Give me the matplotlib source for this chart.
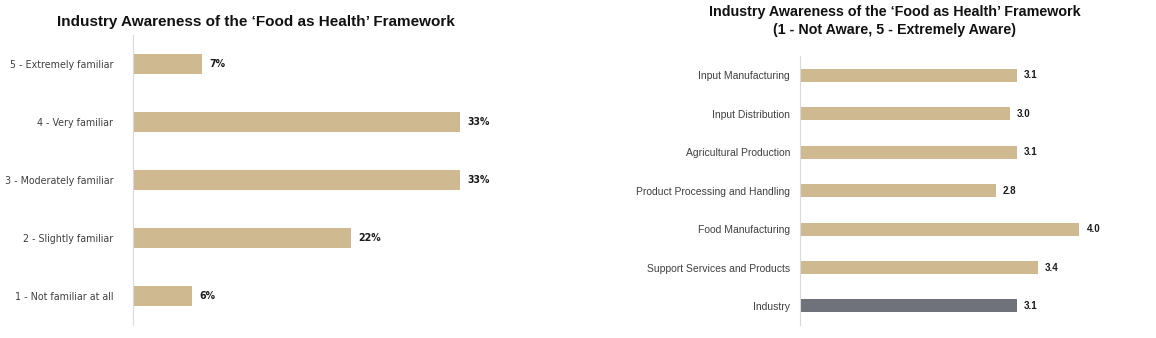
import numpy as np
import matplotlib.pyplot as plt

plt.rcParams['font.family'] = ['Liberation Sans', 'DejaVu Sans']

# familiarity with the framework (share of respondents, %)
familiarity_levels = ['1 - Not familiar at all', '2 - Slightly familiar', '3 - Moderately familiar',
                      '4 - Very familiar', '5 - Extremely familiar']
familiarity_pct = [6, 22, 33, 33, 7]

# mean awareness score by sector
sectors = ['Industry', 'Support Services and Products', 'Food Manufacturing',
           'Product Processing and Handling', 'Agricultural Production',
           'Input Distribution', 'Input Manufacturing']
awareness_score = [3.1, 3.4, 4.0, 2.8, 3.1, 3.0, 3.1]

gold = '#CFB991'
grey_bar = '#6F727B'
label_col = '#404040'

fig = plt.figure(figsize=(11.56, 3.38), dpi=100)

# left panel
ax1 = fig.add_axes([0.115, 0.038, 0.309, 0.858])
y1 = np.arange(len(familiarity_levels))
ax1.barh(y1, familiarity_pct, height=0.35, color=gold)
for y, v in zip(y1, familiarity_pct):
    ax1.text(v + 0.7, y, f'{v}%', va='center', ha='left', fontsize=7.6, fontweight='bold',
             color='#1a1a1a', family='DejaVu Sans', fontstretch='condensed')
ax1.set_yticks(y1)
ax1.set_yticklabels(familiarity_levels, fontsize=7.7, color=label_col,
                    family='DejaVu Sans', fontstretch='condensed')
ax1.set_xlim(0, 36)
ax1.set_ylim(-0.5, len(familiarity_levels) - 0.5)
ax1.set_xticks([])
ax1.tick_params(axis='y', length=0, pad=14)
for s in ['top', 'right', 'bottom']:
    ax1.spines[s].set_visible(False)
ax1.spines['left'].set_color('#D9D9D9')
fig.text(0.221, 0.935, 'Industry Awareness of the \u2018Food as Health\u2019 Framework',
         ha='center', va='center', fontsize=11, fontweight='bold', color='#111111')

# right panel
ax2 = fig.add_axes([0.692, 0.038, 0.266, 0.796])
y2 = np.arange(len(sectors))
colors = [grey_bar] + [gold] * (len(sectors) - 1)
ax2.barh(y2, awareness_score, height=0.34, color=colors)
for y, v in zip(y2, awareness_score):
    ax2.text(v + 0.1, y, f'{v:.1f}', va='center', ha='left', fontsize=7, fontweight='bold', color='#1a1a1a')
ax2.set_yticks(y2)
ax2.set_yticklabels(sectors, fontsize=7.5, color=label_col)
ax2.set_xlim(0, 4.4)
ax2.set_ylim(-0.5, len(sectors) - 0.5)
ax2.set_xticks([])
ax2.tick_params(axis='y', length=0, pad=7)
for s in ['top', 'right', 'bottom']:
    ax2.spines[s].set_visible(False)
ax2.spines['left'].set_color('#D9D9D9')
fig.text(0.774, 0.938, 'Industry Awareness of the \u2018Food as Health\u2019 Framework\n(1 - Not Aware, 5 - Extremely Aware)',
         ha='center', va='center', fontsize=10.3, fontweight='bold', color='#111111', linespacing=1.3)

fig.savefig('out.png', dpi=100, facecolor='white')
